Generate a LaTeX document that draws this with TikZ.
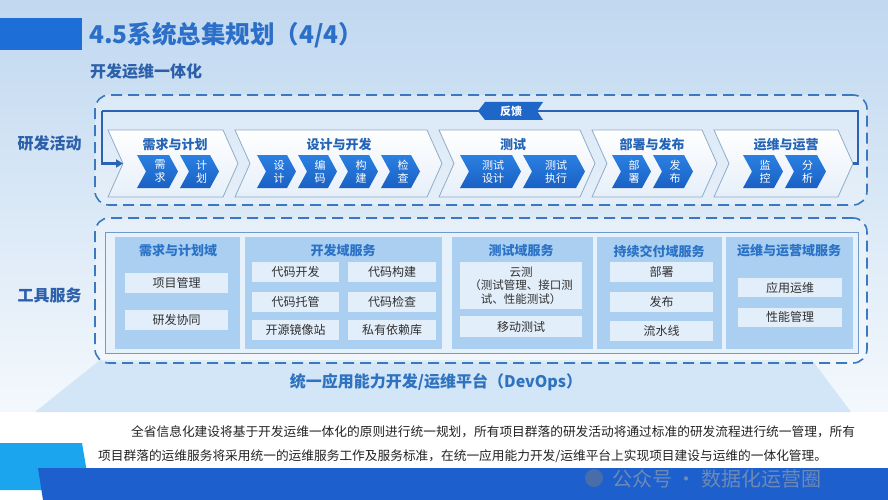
\documentclass[tikz,border=0pt]{standalone}
\usepackage{fontspec}
\setmainfont{Noto Sans CJK SC}
\usetikzlibrary{arrows.meta}
\definecolor{bgtop}{HTML}{C0D8F0}
\definecolor{bgbot}{HTML}{F5F9FD}
\definecolor{trap}{HTML}{D2E6F7}
\definecolor{dashc}{HTML}{3A78BF}
\definecolor{chevline}{HTML}{8EACC9}
\definecolor{chevbot}{HTML}{E6EFF9}
\definecolor{smtop}{HTML}{2B80E2}
\definecolor{smbot}{HTML}{1A60C4}
\definecolor{ctitle}{HTML}{2463B5}
\definecolor{outerfill}{HTML}{E6F1FB}
\definecolor{outerline}{HTML}{6E9BC9}
\definecolor{panelc}{HTML}{AACFF1}
\definecolor{itemc}{HTML}{E2EEFA}
\definecolor{ptitle}{HTML}{2A72C6}
\definecolor{itemtext}{HTML}{303030}
\definecolor{fbc}{HTML}{2C62B4}
\definecolor{tagc}{HTML}{1F66C9}
\definecolor{labelc}{HTML}{2D60AA}
\definecolor{titleblue}{HTML}{2C6FC8}
\definecolor{barblue}{HTML}{1D6ED6}
\definecolor{cyanc}{HTML}{1AA5EE}
\definecolor{bandc}{HTML}{1D5FCC}
\definecolor{bodyc}{HTML}{222222}
\definecolor{platc}{HTML}{2F72BF}
\newcommand\drawchev[7]{%
 \path[#1] (#2,#4) -- ({#3-#6},#4) -- (#3,{(#4+#5)/2}) coordinate (#7tip) -- ({#3-#6},#5) -- (#2,#5) -- ({#2+#6},{(#4+#5)/2}) coordinate (#7notch) -- cycle;}
\tikzset{
 dashbox/.style={draw=dashc, line width=1.6pt, dash pattern=on 11pt off 6pt, rounded corners=14pt, fill=white, fill opacity=.3, text opacity=1},
 bigchevst/.style={draw=chevline, line width=.8pt, top color=white, bottom color=chevbot},
 smchevst/.style={top color=smtop, bottom color=smbot},
 ctitlest/.style={font=\bfseries\fontsize{13}{15}\selectfont, text=ctitle, inner sep=0pt},
 smtext/.style={font=\fontsize{11}{13}\selectfont, text=white, align=center, inner sep=0pt},
 panelst/.style={fill=panelc, inner sep=0pt, minimum height=112pt},
 ptitlest/.style={font=\bfseries\fontsize{13}{15}\selectfont, text=ptitle, inner sep=0pt},
 itemst/.style={fill=itemc, text=itemtext, font=\fontsize{12}{14}\selectfont, inner sep=0pt, align=center},
 sidelabel/.style={font=\bfseries\fontsize{16}{18}\selectfont, text=labelc, inner sep=0pt},
 fbline/.style={draw=fbc, line width=2.4pt},
 bodyst/.style={anchor=west, inner sep=0pt, font=\fontsize{12.7}{15}\selectfont, text=bodyc},
}
\begin{document}
\begin{tikzpicture}[x=1pt,y=-1pt]
\useasboundingbox (0,0) rectangle (888,500);
% background
\fill[white] (0,0) rectangle (888,500);
\shade[top color=bgtop, bottom color=bgbot] (0,0) rectangle (888,420);
\fill[white] (0,412) rectangle (888,500);
\fill[trap] (100,360) -- (812,360) -- (851,412) -- (35,412) -- cycle;
% header
\fill[barblue] (0,18) rectangle (82,50);
\node[anchor=west, inner sep=0pt, font=\bfseries\fontsize{24.5}{28}\selectfont, text=titleblue] (title) at (89,35) {4.5系统总集规划（4/4）};
\node[anchor=west, inner sep=0pt, font=\bfseries\fontsize{16}{18}\selectfont, text=labelc] (subtitle) at (90,71) {开发运维一体化};
% side labels
\node[sidelabel] (lab1) at (49.5,143) {研发活动};
\node[sidelabel] (lab2) at (49.5,295) {工具服务};
% dashed boxes
\node[dashbox, minimum width=772pt, minimum height=110pt] (box1) at (481,150) {};
\node[dashbox, minimum width=772pt, minimum height=145pt] (box2) at (481,290.5) {};
% big chevrons
\drawchev{bigchevst}{108}{238}{130}{197}{15}{ca}
\drawchev{bigchevst}{235}{442}{130}{197}{15}{cb}
\drawchev{bigchevst}{439}{595}{130}{197}{15}{cc}
\drawchev{bigchevst}{592}{717}{130}{197}{15}{cd}
\drawchev{bigchevst}{714}{853}{130}{197}{15}{ce}
\node[ctitlest] (ta) at (175,145) {需求与计划};
\node[ctitlest] (tb) at (339,145) {设计与开发};
\node[ctitlest] (tc) at (513,145) {测试};
\node[ctitlest] (td) at (652,145) {部署与发布};
\node[ctitlest] (te) at (786,145) {运维与运营};
% small chevrons
\drawchev{smchevst}{137}{178}{155}{188}{9}{s1}
\drawchev{smchevst}{180}{219}{155}{188}{9}{s2}
\drawchev{smchevst}{257}{296}{155}{188}{9}{s3}
\drawchev{smchevst}{298}{337}{155}{188}{9}{s4}
\drawchev{smchevst}{339}{378}{155}{188}{9}{s5}
\drawchev{smchevst}{381}{420}{155}{188}{9}{s6}
\drawchev{smchevst}{460}{521}{155}{188}{9}{s7}
\drawchev{smchevst}{523}{585}{155}{188}{9}{s8}
\drawchev{smchevst}{612}{651}{155}{188}{9}{s9}
\drawchev{smchevst}{653}{693}{155}{188}{9}{s10}
\drawchev{smchevst}{743}{783}{155}{188}{9}{s11}
\drawchev{smchevst}{785}{826}{155}{188}{9}{s12}
\node[smtext] (x1) at (160,171.5) {需\\求};
\node[smtext] (x2) at (201.5,171.5) {计\\划};
\node[smtext] (x3) at (279,171.5) {设\\计};
\node[smtext] (x4) at (320,171.5) {编\\码};
\node[smtext] (x5) at (361,171.5) {构\\建};
\node[smtext] (x6) at (403,171.5) {检\\查};
\node[smtext] (x7) at (493,171.5) {测试\\设计};
\node[smtext] (x8) at (556,171.5) {测试\\执行};
\node[smtext] (x9) at (634,171.5) {部\\署};
\node[smtext] (x10) at (675,171.5) {发\\布};
\node[smtext] (x11) at (765,171.5) {监\\控};
\node[smtext] (x12) at (807.5,171.5) {分\\析};
% feedback loop
\coordinate (fbR) at (858,111);
\coordinate (fbL) at (102,111);
\draw[fbline] (cetip) -| (fbR) -- (fbL);
\draw[fbline, -{Triangle[length=7pt,width=8pt]}] (fbL) |- (canotch);
\fill[tagc] (478,111) -- (485,102) -- (543,102) -- (537,111) -- (543,120) -- (485,120) -- cycle;
\node[font=\bfseries\fontsize{11}{13}\selectfont, text=white, inner sep=0pt] (fbtag) at (511,111) {反馈};
% tool services
\node[draw=outerline, line width=1pt, fill=outerfill, minimum width=753pt, minimum height=121pt, inner sep=0pt] (outer) at (481.5,292.5) {};
\node[panelst, minimum width=125pt] (p1) at (177.5,293) {};
\node[panelst, minimum width=197pt] (p2) at (343.5,293) {};
\node[panelst, minimum width=141pt] (p3) at (522.5,293) {};
\node[panelst, minimum width=125pt] (p4) at (659.5,293) {};
\node[panelst, minimum width=127pt] (p5) at (789.5,293) {};
\node[ptitlest] (pt1) at (178,251) {需求与计划域};
\node[ptitlest] (pt2) at (343,251) {开发域服务};
\node[ptitlest] (pt3) at (521,251) {测试域服务};
\node[ptitlest] (pt4) at (659,251) {持续交付域服务};
\node[ptitlest] (pt5) at (789,251) {运维与运营域服务};
\node[itemst, minimum width=103pt, minimum height=20pt] (i1) at (176.5,283) {项目管理};
\node[itemst, minimum width=103pt, minimum height=20pt] (i2) at (176.5,320) {研发协同};
\node[itemst, minimum width=87pt, minimum height=20pt] (i3) at (295.5,272) {代码开发};
\node[itemst, minimum width=88pt, minimum height=20pt] (i4) at (392,272) {代码构建};
\node[itemst, minimum width=87pt, minimum height=20pt] (i5) at (295.5,301.5) {代码托管};
\node[itemst, minimum width=88pt, minimum height=20pt] (i6) at (392,301.5) {代码检查};
\node[itemst, minimum width=87pt, minimum height=20pt] (i7) at (295.5,330) {开源镜像站};
\node[itemst, minimum width=88pt, minimum height=20pt] (i8) at (392,330) {私有依赖库};
\node[itemst, minimum width=122pt, minimum height=47pt, font=\fontsize{11.5}{13.5}\selectfont] (i9) at (521,285.5) {云测\\（测试管理、接口测\\试、性能测试）};
\node[itemst, minimum width=122pt, minimum height=21pt] (i10) at (521,326.5) {移动测试};
\node[itemst, minimum width=103pt, minimum height=20pt] (i11) at (661.5,272) {部署};
\node[itemst, minimum width=103pt, minimum height=20pt] (i12) at (661.5,301.5) {发布};
\node[itemst, minimum width=103pt, minimum height=20pt] (i13) at (661.5,330.5) {流水线};
\node[itemst, minimum width=104pt, minimum height=19pt] (i14) at (790,287.5) {应用运维};
\node[itemst, minimum width=104pt, minimum height=19pt] (i15) at (790,317) {性能管理};
% platform
\node[font=\bfseries\fontsize{16}{18}\selectfont, text=platc, inner sep=0pt] (plat) at (436,382) {统一应用能力开发/运维平台（DevOps）};
% body text
\node[bodyst] (body1) at (131,432) {全省信息化建设将基于开发运维一体化的原则进行统一规划，所有项目群落的研发活动将通过标准的研发流程进行统一管理，所有};
\node[bodyst] (body2) at (98,456) {项目群落的运维服务将采用统一的运维服务工作及服务标准，在统一应用能力开发/运维平台上实现项目建设与运维的一体化管理。};
% bottom bars
\fill[cyanc] (0,443) -- (82,443) -- (90,490) -- (0,490) -- cycle;
\fill[bandc] (38,468) -- (888,468) -- (888,500) -- (43,500) -- cycle;
% watermark
\fill[gray, opacity=.45] (594,478) circle (9pt);
\node[anchor=west, inner sep=0pt, font=\fontsize{20}{22}\selectfont, text=gray!70, text opacity=.6] (wm) at (612,479) {公众号 · 数据化运营圈};
\end{tikzpicture}
\end{document}
